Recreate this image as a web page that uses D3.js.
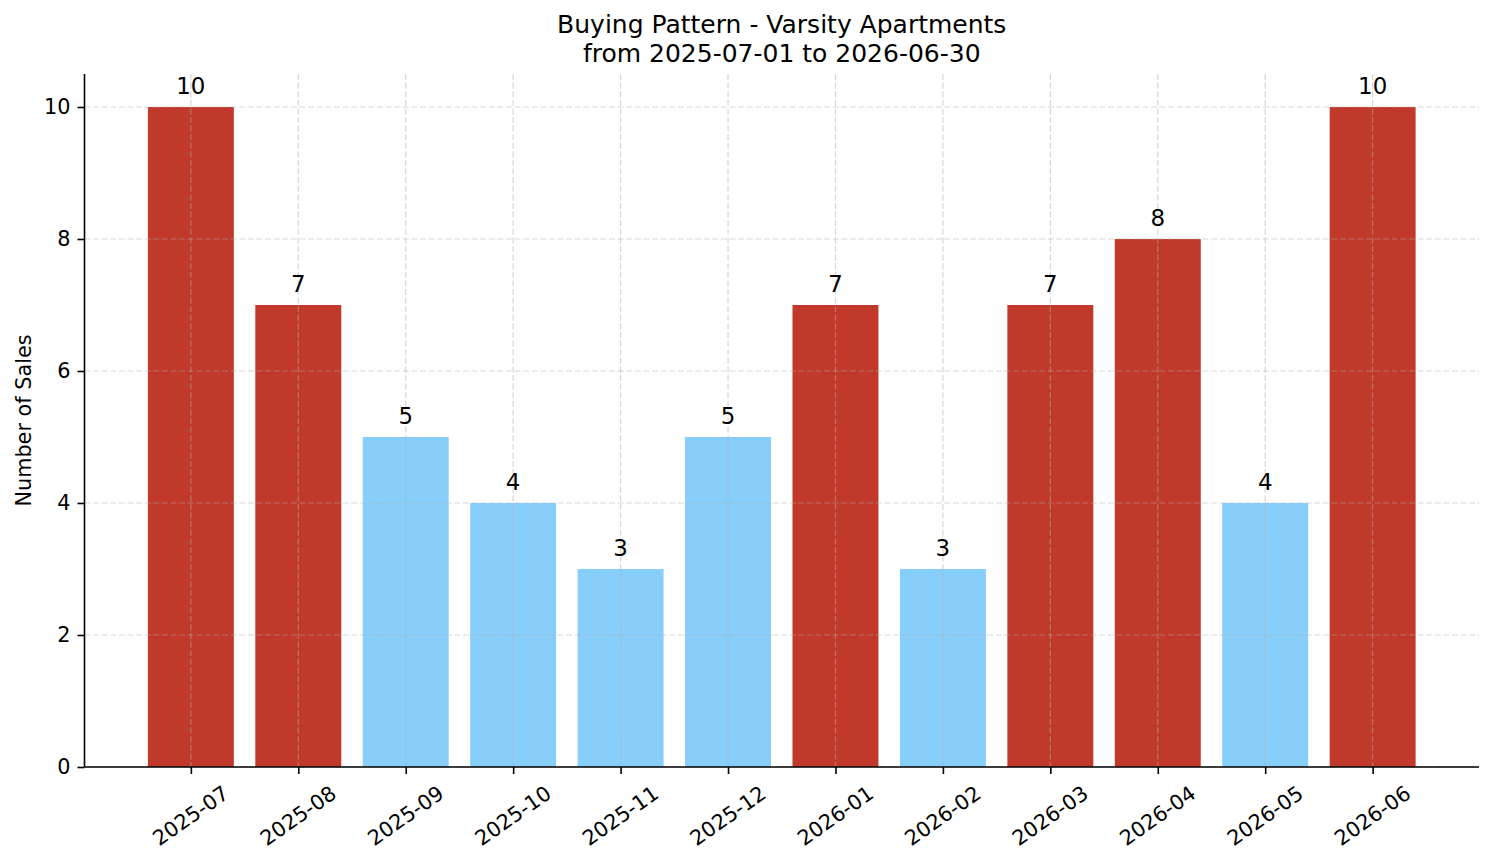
<!DOCTYPE html>
<html>
<head>
<meta charset="utf-8">
<script src="https://cdn.jsdelivr.net/npm/d3@7"></script>
<style>
  body { margin: 0; background: #fff; }
  text { font-family: 'DejaVu Sans', sans-serif; fill: #000; }
</style>
</head>
<body>
<div id="chart-area"></div>
<script>
// data
var months = ['2025-07', '2025-08', '2025-09', '2025-10', '2025-11', '2025-12',
              '2026-01', '2026-02', '2026-03', '2026-04', '2026-05', '2026-06']
var sales = [10, 7, 5, 4, 3, 5, 7, 3, 7, 8, 4, 10]
var highMonth = [true, true, false, false, false, false, true, false, true, true, false, true]
var yTicks = [0, 2, 4, 6, 8, 10]

var W = 1494, H = 863
var margin = { top: 74, left: 84.5, bottom: 96, right: 15 }
var width = W - margin.left - margin.right
var height = H - margin.top - margin.bottom

var svg = d3.select('#chart-area').append('svg')
    .attr('width', W)
    .attr('height', H)

var g = svg.append('g').attr('transform', `translate(${ margin.left }, ${ margin.top })`)

var x = d3.scaleLinear().domain([-0.99, months.length - 1 + 0.99]).range([0, width])
var y = d3.scaleLinear().domain([0, 10.5]).range([height, 0])
var barW = x(0.8) - x(0)

var data = months.map((m, i) => ({ month: m, i: i, value: sales[i], high: highMonth[i] }))

// bars
g.selectAll('rect.bar').data(data).enter()
    .append('rect')
        .attr('class', 'bar')
        .attr('x', d => x(d.i) - barW / 2)
        .attr('width', barW)
        .attr('y', d => y(d.value))
        .attr('height', d => y(0) - y(d.value))
        .attr('fill', d => d.high ? '#c0392b' : '#87cefa')

// grid on top of bars
var grid = g.append('g').attr('class', 'grid')
grid.selectAll('line.gy').data(yTicks).enter().append('line')
    .attr('x1', 0).attr('x2', width)
    .attr('y1', d => y(d)).attr('y2', d => y(d))
grid.selectAll('line.gx').data(data).enter().append('line')
    .attr('x1', d => x(d.i)).attr('x2', d => x(d.i))
    .attr('y1', 0).attr('y2', height)
grid.selectAll('line')
    .attr('stroke', '#b0b0b0')
    .attr('stroke-opacity', 0.5)
    .attr('stroke-width', 1.2)
    .attr('stroke-dasharray', '6,2.6')

// axes
var yAxisCall = d3.axisLeft(y).tickValues(yTicks).tickSize(7).tickPadding(7)
var yAxisGroup = g.append('g').attr('class', 'y-axis').call(yAxisCall)

var xAxisCall = d3.axisBottom(x).tickValues(data.map(d => d.i)).tickSize(7).tickFormat(() => '')
var xAxisGroup = g.append('g').attr('class', 'x-axis')
    .attr('transform', `translate(0, ${height})`)
    .call(xAxisCall)

g.selectAll('.domain').remove()
g.selectAll('.tick line').attr('stroke', '#000').attr('stroke-width', 1.6)
yAxisGroup.selectAll('text').attr('font-size', '20.8px').attr('fill', '#000')

// spines
g.append('line').attr('x1', 0).attr('x2', 0).attr('y1', 0).attr('y2', height)
    .attr('stroke', '#000').attr('stroke-width', 1.6)
g.append('line').attr('x1', 0).attr('x2', width).attr('y1', height).attr('y2', height)
    .attr('stroke', '#000').attr('stroke-width', 1.6)

// rotated month labels, rotated box centred under the tick
var ang = 35 * Math.PI / 180
var fs = 20.8
g.selectAll('text.month').data(data).enter()
    .append('text')
        .attr('class', 'month')
        .attr('font-size', fs + 'px')
        .attr('text-anchor', 'middle')
        .attr('dominant-baseline', 'central')
        .text(d => d.month)
        .each(function(d) {
            var w = this.getComputedTextLength()
            var h = fs * 1.17
            var boxH = w * Math.sin(ang) + h * Math.cos(ang)
            var cy = height + 14 + boxH / 2
            d3.select(this).attr('transform', `translate(${x(d.i)}, ${cy}) rotate(-35)`)
        })

// value labels
g.selectAll('text.val').data(data).enter()
    .append('text')
        .attr('class', 'val')
        .attr('x', d => x(d.i))
        .attr('y', d => y(d.value) - 13)
        .attr('text-anchor', 'middle')
        .attr('font-size', '22.9px')
        .text(d => d.value)

// y label
g.append('text')
    .attr('x', -(height / 2))
    .attr('y', -54)
    .attr('text-anchor', 'middle')
    .attr('transform', 'rotate(-90)')
    .attr('font-size', '20.8px')
    .text('Number of Sales')

// title
var title = svg.append('text')
    .attr('text-anchor', 'middle')
    .attr('font-size', '25px')
title.append('tspan').attr('x', margin.left + width / 2).attr('y', 33).text('Buying Pattern - Varsity Apartments')
title.append('tspan').attr('x', margin.left + width / 2).attr('y', 62).text('from 2025-07-01 to 2026-06-30')
</script>
</body>
</html>
